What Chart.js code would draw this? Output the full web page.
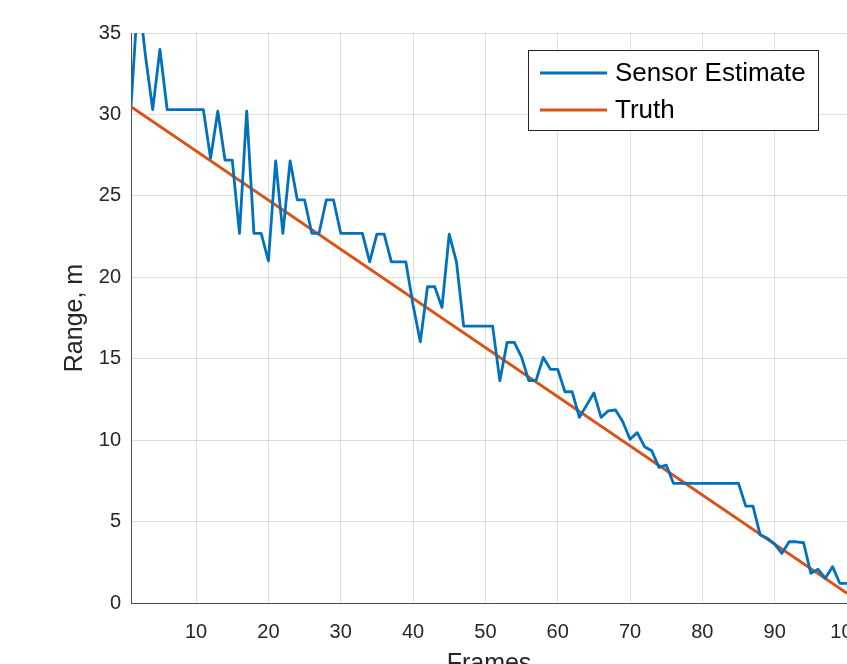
<!DOCTYPE html>
<html><head><meta charset="utf-8">
<script src="https://cdn.jsdelivr.net/npm/chart.js@4"></script>
<style>html,body{margin:0;padding:0;overflow:hidden;background:#fff;width:847px;height:664px}</style>
</head><body>
<canvas id="c" width="907" height="700" style="display:block;width:907px;height:700px"></canvas>
<script>
const frames = [1,2,3,4,5,6,7,8,9,10,11,12,13,14,15,16,17,18,19,20,
  21,22,23,24,25,26,27,28,29,30,31,32,33,34,35,36,37,38,39,40,
  41,42,43,44,45,46,47,48,49,50,51,52,53,54,55,56,57,58,59,60,
  61,62,63,64,65,66,67,68,69,70,71,72,73,74,75,76,77,78,79,80,
  81,82,83,84,85,86,87,88,89,90,91,92,93,94,95,96,97,98,99,100];
const sensorRange = [30.5,37.5,33.6,30.3,34.0,30.3,30.3,30.3,30.3,30.3,
  30.3,27.3,30.2,27.2,27.2,22.7,30.2,22.7,22.7,21.0,
  27.15,22.7,27.15,24.75,24.75,22.7,22.7,24.75,24.75,22.7,
  22.7,22.7,22.7,20.95,22.65,22.65,20.95,20.95,20.95,18.3,
  16.04,19.42,19.42,18.15,22.65,20.95,17.0,17.0,17.0,17.0,
  17.0,13.65,16.0,16.0,15.1,13.65,13.65,15.08,14.35,14.35,
  12.97,12.97,11.4,12.15,12.9,11.4,11.8,11.85,11.13,10.05,
  10.46,9.6,9.35,8.33,8.47,7.35,7.35,7.35,7.35,7.35,
  7.35,7.35,7.35,7.35,7.35,5.95,5.95,4.17,3.97,3.62,
  3.05,3.76,3.76,3.7,1.82,2.07,1.52,2.23,1.21,1.2];
const truthFrames = [1,100];
const truthRange = [30.47,0.6];
const xTicks = [10,20,30,40,50,60,70,80,90,100];
const yTicks = [0,5,10,15,20,25,30,35];
const seriesNames = ['Sensor Estimate','Truth'];
const seriesColors = ['#0072BD','#D95319'];

const FONT = "'Liberation Sans', Arial, sans-serif";
const TXT = '#262626';

const legendPlugin = {
  id: 'boxLegend',
  afterDatasetsDraw(chart) {
    const ctx = chart.ctx, ca = chart.chartArea;
    const w = 290, h = 80;
    const x0 = ca.right - 29 - w, y0 = ca.top + 17;
    ctx.save();
    ctx.fillStyle = '#fff';
    ctx.fillRect(x0, y0, w, h);
    ctx.strokeStyle = '#262626';
    ctx.lineWidth = 1;
    ctx.strokeRect(x0 + 0.5, y0 + 0.5, w, h);
    ctx.font = '26px ' + FONT;
    ctx.textBaseline = 'middle';
    chart.data.datasets.forEach((ds, i) => {
      const cy = y0 + 23 + i * 37;
      ctx.strokeStyle = ds.borderColor;
      ctx.lineWidth = ds.borderWidth;
      ctx.beginPath();
      ctx.moveTo(x0 + 12, cy);
      ctx.lineTo(x0 + 79, cy);
      ctx.stroke();
      ctx.fillStyle = '#000';
      ctx.fillText(ds.label, x0 + 87, cy + 1);
    });
    ctx.restore();
  }
};

new Chart(document.getElementById('c'), {
  type: 'line',
  data: {
    datasets: [
      { label: seriesNames[0], data: frames.map((f, i) => ({x: f, y: sensorRange[i]})),
        borderColor: seriesColors[0], borderWidth: 2.8, pointRadius: 0, tension: 0,
        borderJoinStyle: 'round', clip: 0 },
      { label: seriesNames[1], data: truthFrames.map((f, i) => ({x: f, y: truthRange[i]})),
        borderColor: seriesColors[1], borderWidth: 2.8, pointRadius: 0, tension: 0, clip: 0 }
    ]
  },
  options: {
    responsive: false,
    animation: false,
    devicePixelRatio: 1,
    layout: { padding: { left: 56, right: 60, top: 33, bottom: 17 } },
    plugins: { legend: { display: false }, tooltip: { enabled: false } },
    scales: {
      x: {
        type: 'linear', min: 1, max: 100,
        afterBuildTicks: s => { s.ticks = xTicks.map(v => ({value: v})); },
        afterFit: s => { s.height = 80; },
        grid: { color: 'rgba(38,38,38,0.15)', drawTicks: false, lineWidth: 1 },
        border: { color: '#4d4d4d', width: 1 },
        ticks: { color: TXT, font: { family: FONT, size: 20 }, padding: 17, maxRotation: 0 },
        title: { display: true, text: 'Frames', color: TXT, font: { family: FONT, size: 25 } }
      },
      y: {
        type: 'linear', min: 0, max: 35,
        afterBuildTicks: s => { s.ticks = yTicks.map(v => ({value: v})); },
        afterFit: s => { s.width = 75; },
        grid: { color: 'rgba(38,38,38,0.15)', drawTicks: false, lineWidth: 1 },
        border: { color: '#4d4d4d', width: 1 },
        ticks: { color: TXT, font: { family: FONT, size: 20 }, padding: 10 },
        title: { display: true, text: 'Range, m', color: TXT, font: { family: FONT, size: 25 } }
      }
    }
  },
  plugins: [legendPlugin]
});
</script>
</body></html>
